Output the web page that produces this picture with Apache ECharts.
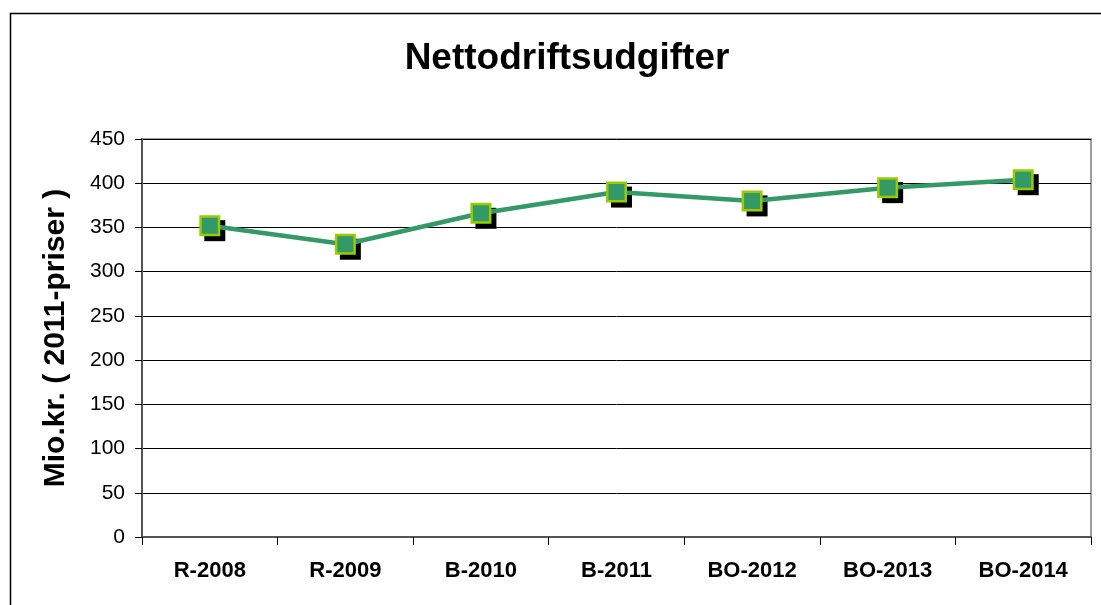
<!DOCTYPE html>
<html>
<head>
<meta charset="utf-8">
<script src="https://cdn.jsdelivr.net/npm/echarts@6/dist/echarts.min.js"></script>
<style>
  html, body { margin: 0; padding: 0; background: #fff; }
  #chart { width: 1101px; height: 605px; }
</style>
</head>
<body>
<div id="chart"></div>
<script>
const categories = ['R-2008', 'R-2009', 'B-2010', 'B-2011', 'BO-2012', 'BO-2013', 'BO-2014']
const values = [352, 331, 366, 390, 380, 395, 404]
const yTicks = { min: 0, max: 450, interval: 50 }

const font = 'Liberation Sans, Arial, sans-serif'
const chart = echarts.init(document.getElementById('chart'), null, { renderer: 'canvas' })

const option = {
  backgroundColor: '#fff',
  animation: false,
  title: {
    text: 'Nettodriftsudgifter',
    left: 562,
    top: 35,
    textAlign: 'center',
    textStyle: {
      fontFamily: font,
      fontSize: 37,
      fontWeight: 'bold',
      color: '#000'
    }
  },
  graphic: [
    {
      type: 'rect',
      shape: { x: 10.5, y: 13.5, width: 1200, height: 700 },
      style: { fill: 'none', stroke: '#000', lineWidth: 1.5 },
      silent: true,
      z: -1
    }
  ],
  grid: {
    left: 142,
    right: 10,
    top: 139,
    bottom: 68,
    show: true,
    borderColor: '#808080',
    borderWidth: 1.5
  },
  xAxis: {
    type: 'category',
    data: categories,
    boundaryGap: true,
    axisLine: { lineStyle: { color: '#555', width: 2 } },
    axisTick: { show: true, length: 8, lineStyle: { color: '#000' } },
    axisLabel: {
      margin: 23,
      fontFamily: font,
      fontSize: 22,
      fontWeight: 'bold',
      color: '#000'
    },
    splitLine: { show: false }
  },
  yAxis: {
    type: 'value',
    min: yTicks.min,
    max: yTicks.max,
    interval: yTicks.interval,
    name: 'Mio.kr. ( 2011-priser )',
    nameLocation: 'middle',
    nameGap: 71,
    nameTextStyle: {
      fontFamily: font,
      fontSize: 30,
      fontWeight: 'bold',
      color: '#000'
    },
    axisLine: { show: true, lineStyle: { color: '#555', width: 2 } },
    axisTick: { show: true, length: 7, lineStyle: { color: '#000' } },
    axisLabel: {
      margin: 17,
      fontFamily: font,
      fontSize: 21,
      color: '#000'
    },
    splitLine: { show: true, lineStyle: { color: '#000', width: 1 } }
  },
  series: [
    {
      // black drop shadow behind each marker
      type: 'line',
      data: values,
      symbol: 'rect',
      symbolSize: 21,
      symbolOffset: [5, 5],
      showSymbol: true,
      lineStyle: { width: 0, opacity: 0 },
      itemStyle: { color: '#000' },
      z: 1
    },
    {
      type: 'line',
      data: values,
      symbol: 'rect',
      symbolSize: 18.5,
      lineStyle: { color: '#339966', width: 4.5 },
      itemStyle: {
        color: '#339966',
        borderColor: '#99cc00',
        borderWidth: 2.5
      },
      z: 2
    }
  ]
}

chart.setOption(option)
</script>
</body>
</html>
